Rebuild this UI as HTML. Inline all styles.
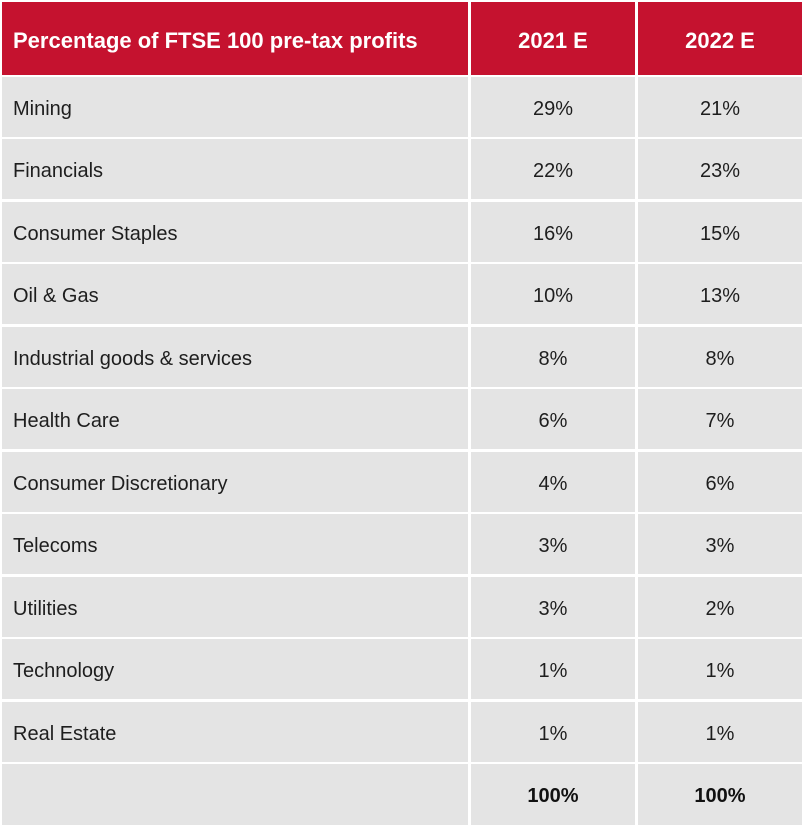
<!DOCTYPE html>
<html><head><meta charset="utf-8"><style>
html,body{margin:0;padding:0;background:#fff;}
body{width:804px;height:827px;position:relative;overflow:hidden;font-family:"Liberation Sans",Arial,sans-serif;}
.c{position:absolute;background:#e4e4e4;color:#1e1e1e;font-size:20px;display:flex;align-items:center;box-sizing:border-box;}
.c span{position:relative;top:2px;}
.h{background:#c5122f;color:#fff;font-weight:bold;font-size:22px;}
.h span{top:2px;}
.l{left:2px;width:466px;padding-left:11px;}
.m{left:471px;width:164px;justify-content:center;}
.r{left:638px;width:164px;justify-content:center;}
.b{font-weight:bold;color:#111;}
</style></head><body>
<div class="c h l" style="top:2px;height:73px"><span>Percentage of FTSE 100 pre-tax profits</span></div>
<div class="c h m" style="top:2px;height:73px"><span>2021 E</span></div>
<div class="c h r" style="top:2px;height:73px"><span>2022 E</span></div>

<div class="c l" style="top:77px;height:60px"><span>Mining</span></div>
<div class="c m" style="top:77px;height:60px"><span>29%</span></div>
<div class="c r" style="top:77px;height:60px"><span>21%</span></div>

<div class="c l" style="top:139px;height:60px"><span>Financials</span></div>
<div class="c m" style="top:139px;height:60px"><span>22%</span></div>
<div class="c r" style="top:139px;height:60px"><span>23%</span></div>

<div class="c l" style="top:202px;height:60px"><span>Consumer Staples</span></div>
<div class="c m" style="top:202px;height:60px"><span>16%</span></div>
<div class="c r" style="top:202px;height:60px"><span>15%</span></div>

<div class="c l" style="top:264px;height:60px"><span>Oil &amp; Gas</span></div>
<div class="c m" style="top:264px;height:60px"><span>10%</span></div>
<div class="c r" style="top:264px;height:60px"><span>13%</span></div>

<div class="c l" style="top:327px;height:60px"><span>Industrial goods &amp; services</span></div>
<div class="c m" style="top:327px;height:60px"><span>8%</span></div>
<div class="c r" style="top:327px;height:60px"><span>8%</span></div>

<div class="c l" style="top:389px;height:60px"><span>Health Care</span></div>
<div class="c m" style="top:389px;height:60px"><span>6%</span></div>
<div class="c r" style="top:389px;height:60px"><span>7%</span></div>

<div class="c l" style="top:452px;height:60px"><span>Consumer Discretionary</span></div>
<div class="c m" style="top:452px;height:60px"><span>4%</span></div>
<div class="c r" style="top:452px;height:60px"><span>6%</span></div>

<div class="c l" style="top:514px;height:60px"><span>Telecoms</span></div>
<div class="c m" style="top:514px;height:60px"><span>3%</span></div>
<div class="c r" style="top:514px;height:60px"><span>3%</span></div>

<div class="c l" style="top:577px;height:60px"><span>Utilities</span></div>
<div class="c m" style="top:577px;height:60px"><span>3%</span></div>
<div class="c r" style="top:577px;height:60px"><span>2%</span></div>

<div class="c l" style="top:639px;height:60px"><span>Technology</span></div>
<div class="c m" style="top:639px;height:60px"><span>1%</span></div>
<div class="c r" style="top:639px;height:60px"><span>1%</span></div>

<div class="c l" style="top:702px;height:60px"><span>Real Estate</span></div>
<div class="c m" style="top:702px;height:60px"><span>1%</span></div>
<div class="c r" style="top:702px;height:60px"><span>1%</span></div>

<div class="c l" style="top:764px;height:61px"></div>
<div class="c m b" style="top:764px;height:61px"><span>100%</span></div>
<div class="c r b" style="top:764px;height:61px"><span>100%</span></div>
</body></html>
